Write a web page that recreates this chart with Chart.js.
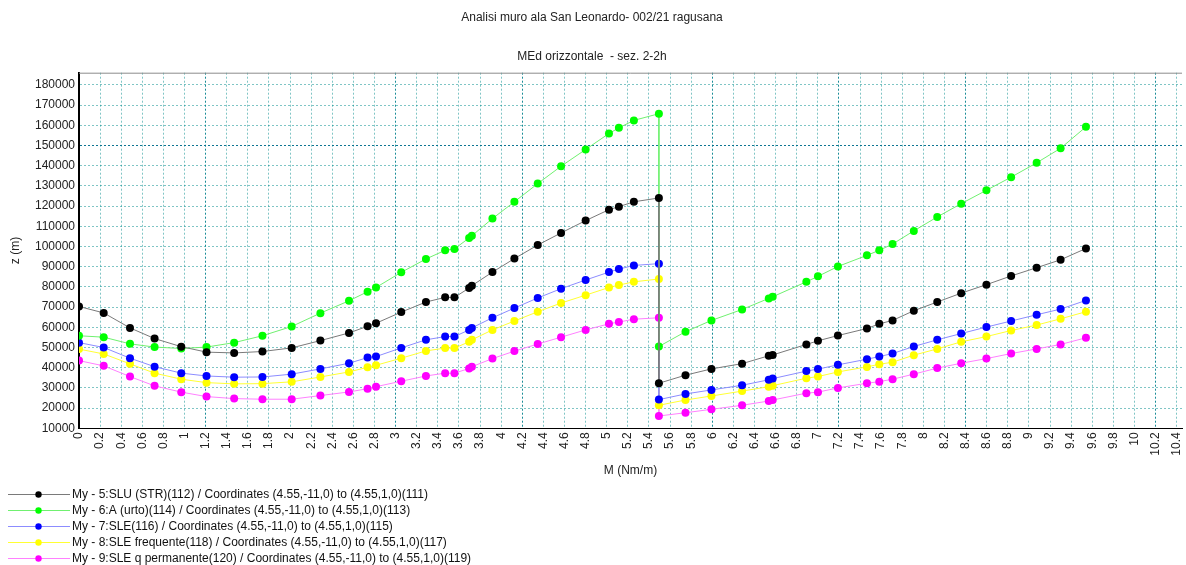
<!DOCTYPE html>
<html>
<head>
<meta charset="utf-8">
<script src="https://cdn.jsdelivr.net/npm/chart.js@4.4.1/dist/chart.umd.min.js"></script>
<style>
html, body { margin: 0; padding: 0; background: #fff; }
</style>
</head>
<body>
<canvas id="myChart" width="1186" height="565"></canvas>
<script>
// positions along the section (two parts, joined at 5.494)
var mValues = [0, 0.234, 0.483, 0.716, 0.969, 1.208, 1.47, 1.738, 2.015, 2.287, 2.558, 2.734, 2.814, 3.053, 3.287, 3.469, 3.557, 3.696, 3.722, 3.917, 4.125, 4.346, 4.567, 4.8, 5.021, 5.115, 5.257, 5.494,
  5.494, 5.746, 5.992, 6.282, 6.535, 6.572, 6.891, 7.001, 7.19, 7.465, 7.582, 7.708, 7.909, 8.131, 8.358, 8.597, 8.831, 9.073, 9.3, 9.54];

var sluValues = [70300, 67100, 59700, 54400, 50400, 47700, 47300, 48000, 49800, 53400, 57200, 60500, 62000, 67500, 72500, 74800, 74800, 79400, 80600, 87300, 94000, 100700, 106700, 112800, 118200, 119700, 122100, 124000,
  32300, 36300, 39400, 42000, 45900, 46300, 51500, 53300, 55900, 59400, 61700, 63400, 68200, 72500, 76900, 81100, 85400, 89500, 93400, 99000];
var urtoValues = [55800, 55100, 51800, 50200, 49500, 50200, 52400, 55800, 60400, 67000, 73100, 77600, 79700, 87200, 93800, 98100, 98800, 104200, 105300, 113800, 122100, 131100, 139700, 148000, 155900, 158700, 162400, 165700,
  50500, 57800, 63400, 68800, 74300, 75100, 82500, 85200, 90100, 95600, 98100, 101200, 107700, 114600, 121200, 127800, 134300, 141400, 148600, 159200];
var sleValues = [52400, 50000, 44700, 40500, 37300, 35900, 35300, 35400, 36800, 39400, 42200, 45000, 45500, 49800, 53800, 55400, 55400, 58700, 59700, 64700, 69500, 74500, 79100, 83400, 87300, 88800, 90600, 91500,
  24200, 27000, 29000, 31300, 34000, 34600, 38300, 39300, 41400, 44200, 45500, 47000, 50500, 53800, 56900, 60100, 63100, 66200, 69000, 73300];
var freqValues = [49200, 46800, 41900, 37300, 34300, 32600, 32000, 32100, 33000, 35400, 37900, 40200, 41200, 44700, 48300, 49700, 49700, 52800, 53800, 58700, 63100, 67700, 72000, 75900, 79700, 80900, 82500, 83900,
  21400, 24000, 26000, 28400, 30600, 31100, 34800, 35600, 37900, 40400, 41700, 42700, 46200, 49300, 52800, 55400, 58400, 61100, 64200, 67700];
var permValues = [43500, 40900, 35600, 31000, 27900, 25700, 24700, 24400, 24400, 26200, 28000, 29600, 30600, 33300, 35900, 37300, 37300, 39600, 40500, 44500, 48200, 51700, 55100, 58700, 61700, 62600, 64000, 64700,
  16100, 17700, 19400, 21400, 23500, 24000, 27400, 27900, 30000, 32300, 33100, 34300, 36800, 39800, 42200, 44500, 47000, 49300, 51500, 54800];

var seriesLabels = [
  "My - 5:SLU (STR)(112) / Coordinates (4.55,-11,0) to (4.55,1,0)(111)",
  "My - 6:A (urto)(114) / Coordinates (4.55,-11,0) to (4.55,1,0)(113)",
  "My - 7:SLE(116) / Coordinates (4.55,-11,0) to (4.55,1,0)(115)",
  "My - 8:SLE frequente(118) / Coordinates (4.55,-11,0) to (4.55,1,0)(117)",
  "My - 9:SLE q permanente(120) / Coordinates (4.55,-11,0) to (4.55,1,0)(119)"
];

var xTickValues = [0, 0.2, 0.4, 0.6, 0.8, 1, 1.2, 1.4, 1.6, 1.8, 2, 2.2, 2.4, 2.6, 2.8, 3, 3.2, 3.4, 3.6, 3.8, 4, 4.2, 4.4, 4.6, 4.8, 5, 5.2, 5.4, 5.6, 5.8, 6, 6.2, 6.4, 6.6, 6.8, 7, 7.2, 7.4, 7.6, 7.8, 8, 8.2, 8.4, 8.6, 8.8, 9, 9.2, 9.4, 9.6, 9.8, 10, 10.2, 10.4];
var yTickValues = [10000, 20000, 30000, 40000, 50000, 60000, 70000, 80000, 90000, 100000, 110000, 120000, 130000, 140000, 150000, 160000, 170000, 180000];
var strongGridX = [1.2, 3, 4.2, 6, 7.2, 8.4, 10.2];
var strongGridY = [150000];

var FONT = "'Liberation Sans', Arial, sans-serif";

function pts(arr) {
  return mValues.map(function (m, i) { return { x: m, y: arr[i] }; });
}

function makeSet(label, values, lineColor, pointColor) {
  return {
    label: label,
    data: pts(values),
    borderColor: lineColor,
    borderWidth: 1,
    pointBackgroundColor: pointColor,
    pointBorderColor: pointColor,
    pointBorderWidth: 0,
    pointRadius: 4,
    tension: 0,
    fill: false
  };
}

var topBorder = {
  id: 'topBorder',
  afterDraw: function (chart) {
    var a = chart.chartArea, ctx = chart.ctx;
    ctx.save();
    ctx.strokeStyle = '#8c8c8c';
    ctx.lineWidth = 1;
    ctx.beginPath();
    ctx.moveTo(a.left, a.top + 0.5);
    ctx.lineTo(a.right, a.top + 0.5);
    ctx.stroke();
    ctx.restore();
  }
};

// legend drawn as a single column under the x axis
var columnLegend = {
  id: 'columnLegend',
  afterDraw: function (chart) {
    var ctx = chart.ctx;
    var y0 = chart.scales.x.bottom + 15.7;
    ctx.save();
    ctx.font = '12px ' + FONT;
    ctx.textBaseline = 'middle';
    chart.data.datasets.forEach(function (ds, i) {
      var y = Math.round(y0 + i * 15.9) + 0.5;
      ctx.strokeStyle = ds.borderColor;
      ctx.lineWidth = 1;
      ctx.beginPath();
      ctx.moveTo(8, y);
      ctx.lineTo(70, y);
      ctx.stroke();
      ctx.fillStyle = ds.pointBackgroundColor;
      ctx.beginPath();
      ctx.arc(38.5, y, 3.2, 0, Math.PI * 2);
      ctx.fill();
      ctx.fillStyle = '#111';
      ctx.fillText(ds.label, 72, y + 0.5);
    });
    ctx.restore();
  }
};

new Chart("myChart", {
  type: "line",
  data: {
    datasets: [
      makeSet(seriesLabels[0], sluValues, '#7a7a7a', '#000000'),
      makeSet(seriesLabels[1], urtoValues, '#70f070', '#00ff00'),
      makeSet(seriesLabels[2], sleValues, '#8c8cff', '#0000ff'),
      makeSet(seriesLabels[3], freqValues, '#ffff33', '#ffff00'),
      makeSet(seriesLabels[4], permValues, '#ff80ff', '#ff00ff')
    ]
  },
  plugins: [topBorder, columnLegend],
  options: {
    responsive: false,
    animation: false,
    layout: { padding: { left: 0, right: 2, top: 0, bottom: 86.7 } },
    plugins: {
      legend: { display: false },
      tooltip: { enabled: false },
      title: {
        display: true,
        text: 'Analisi muro ala San Leonardo- 002/21 ragusana',
        color: '#222',
        font: { family: FONT, size: 12, weight: 'normal' },
        padding: { top: 10.5, bottom: 10 }
      },
      subtitle: {
        display: true,
        text: 'MEd orizzontale  - sez. 2-2h',
        color: '#222',
        font: { family: FONT, size: 12, weight: 'normal' },
        padding: { top: 14.6, bottom: 8.8 }
      }
    },
    scales: {
      x: {
        type: 'linear',
        min: 0,
        max: 10.45,
        afterBuildTicks: function (s) { s.ticks = xTickValues.map(function (v) { return { value: v }; }); },
        afterFit: function (s) { s.height = 50; s.paddingRight = 0; s.paddingLeft = 0; },
        ticks: {
          autoSkip: false,
          minRotation: 90,
          maxRotation: 90,
          padding: 4,
          color: '#222',
          font: { family: FONT, size: 12 },
          callback: function (v) { return String(v); }
        },
        grid: {
          drawTicks: false,
          color: function (c) {
            return c.tick && strongGridX.indexOf(c.tick.value) >= 0 ? 'rgba(0,128,140,0.9)' : 'rgba(0,140,140,0.5)';
          }
        },
        border: { color: '#000', width: 1, dash: [2, 2] },
        title: {
          display: true,
          text: 'M (Nm/m)',
          color: '#222',
          font: { family: FONT, size: 12 },
          padding: { top: 0, bottom: 0 }
        }
      },
      y: {
        type: 'linear',
        min: 10000,
        max: 186000,
        afterBuildTicks: function (s) { s.ticks = yTickValues.map(function (v) { return { value: v }; }); },
        afterFit: function (s) { s.width = 79; },
        ticks: {
          padding: 4,
          color: '#222',
          font: { family: FONT, size: 12 },
          callback: function (v) { return String(v); }
        },
        grid: {
          drawTicks: false,
          color: function (c) {
            return c.tick && strongGridY.indexOf(c.tick.value) >= 0 ? 'rgba(0,110,140,0.95)' : 'rgba(0,140,140,0.5)';
          }
        },
        border: { color: '#000', width: 2, dash: [2, 2] },
        title: {
          display: true,
          text: 'z (m)',
          color: '#222',
          font: { family: FONT, size: 12 },
          padding: { top: 8, bottom: 0 }
        }
      }
    }
  }
});
</script>
</body>
</html>
